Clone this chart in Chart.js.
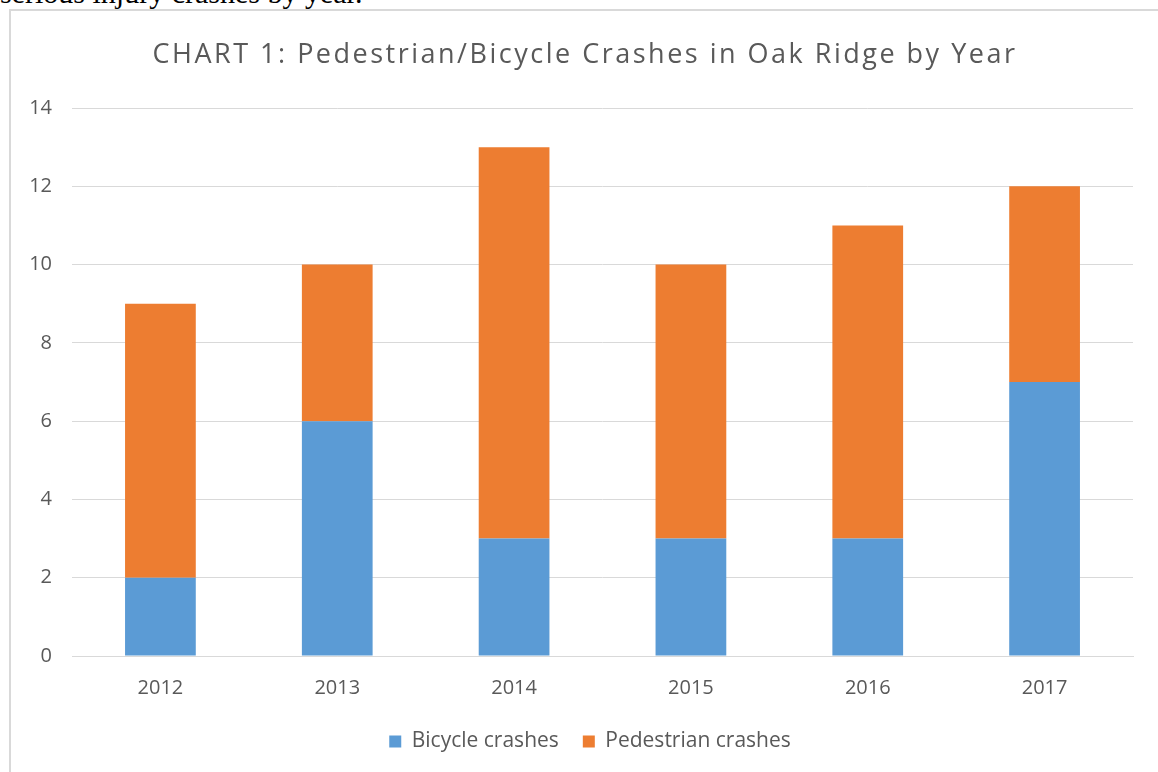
<!DOCTYPE html>
<html>
<head>
<meta charset="utf-8">
<script src="https://cdn.jsdelivr.net/npm/chart.js@4"></script>
<style>
  body { margin: 0; background: #fff; overflow: hidden; width: 1158px; height: 772px; position: relative; }
  #note { position: absolute; left: 0; top: -22px; font: 30px "Liberation Serif", "Times New Roman", serif; line-height: 1; white-space: nowrap; color: #000; }
  #box { position: absolute; left: 9px; top: 9px; width: 1160px; height: 780px; border: 2px solid #d9d9d9; background: #fff; }
  #wrap { position: absolute; left: 0; top: 0; width: 1147px; height: 761px; }
</style>
</head>
<body>
<div id="note">serious injury crashes by year.</div>
<div id="box"><div id="wrap"><canvas id="chart"></canvas></div></div>
<script>
// data
const years = ['2012', '2013', '2014', '2015', '2016', '2017'];
const bicycle = [2, 6, 3, 3, 3, 7];
const pedestrian = [7, 4, 10, 7, 8, 5];
const yTicks = [0, 2, 4, 6, 8, 10, 12, 14];
const chartTitle = 'CHART 1: Pedestrian/Bicycle Crashes in Oak Ridge by Year';

const grey = '#595959';
const fontFamily = '"Open Sans", "Liberation Sans", sans-serif';
Chart.defaults.font.family = fontFamily;
Chart.defaults.color = grey;

// title drawn by hand so the wide letter spacing of the original can be kept
const spacedTitle = {
    id: 'spacedTitle',
    afterDraw(chart) {
        const c = chart.ctx;
        c.save();
        c.font = '27px ' + fontFamily;
        c.fillStyle = grey;
        c.letterSpacing = '2.5px';
        c.textAlign = 'center';
        c.textBaseline = 'middle';
        c.fillText(chartTitle, 574, 44);
        c.restore();
    }
};

let ctx = document.getElementById('chart').getContext('2d');
new Chart(ctx, {
    type: 'bar',
    data: {
        labels: years,
        datasets: [{
            label: 'Bicycle crashes',
            data: bicycle,
            backgroundColor: '#5b9bd5',
            barPercentage: 0.4,
            categoryPercentage: 1
        }, {
            label: 'Pedestrian crashes',
            data: pedestrian,
            backgroundColor: '#ed7d31',
            barPercentage: 0.4,
            categoryPercentage: 1
        }]
    },
    plugins: [spacedTitle],
    options: {
        responsive: true,
        maintainAspectRatio: false,
        animation: false,
        layout: { padding: { left: 11, right: 0, top: 97, bottom: 10 } },
        plugins: {
            title: { display: false },
            legend: {
                position: 'bottom',
                labels: {
                    boxWidth: 12,
                    boxHeight: 12,
                    padding: 24,
                    color: grey,
                    font: { size: 21 }
                }
            },
            tooltip: { enabled: false }
        },
        scales: {
            x: {
                stacked: true,
                grid: { display: false },
                border: { color: '#d9d9d9' },
                ticks: { padding: 12, font: { size: 20 }, color: grey },
                afterFit: (scale) => { scale.height = 51; }
            },
            y: {
                stacked: true,
                min: yTicks[0],
                max: yTicks[yTicks.length - 1],
                afterBuildTicks: (scale) => { scale.ticks = yTicks.map(v => ({ value: v })); },
                ticks: { padding: 20, font: { size: 20 }, color: grey },
                grid: { color: '#d9d9d9', drawTicks: false },
                border: { display: false },
                afterFit: (scale) => { scale.width = 50; }
            },
            // empty axis on the right, only to keep the plot's right margin
            yRight: {
                position: 'right',
                ticks: { display: false },
                grid: { display: false },
                border: { display: false },
                afterFit: (scale) => { scale.width = 25; }
            }
        }
    }
});
</script>
</body>
</html>
